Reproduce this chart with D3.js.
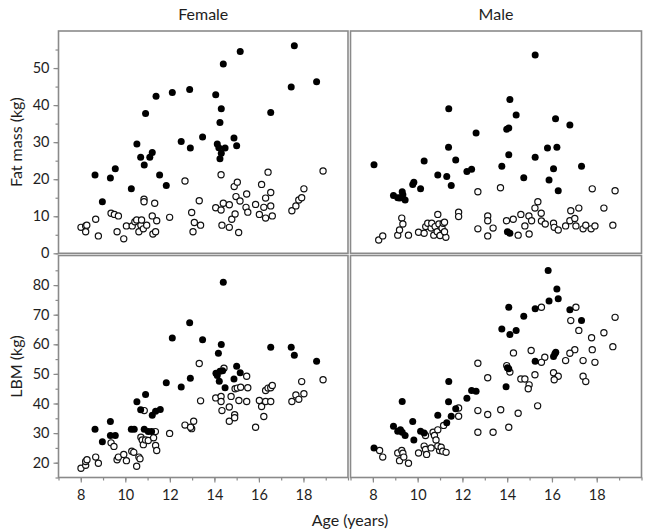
<!DOCTYPE html>
<html><head><meta charset="utf-8">
<script src="https://cdn.jsdelivr.net/npm/d3@7/dist/d3.min.js"></script>
<style>body{margin:0;background:#fff}svg{display:block}</style>
</head><body>
<svg id="c" width="651" height="532"></svg>
<script>
// ---- data: [age, value] ----
const panelTitles = ["Female", "Male"];
const xTickLabels = [8, 10, 12, 14, 16, 18];
const fatTickLabels = [0, 10, 20, 30, 40, 50];
const lbmTickLabels = [20, 30, 40, 50, 60, 70, 80];

const femaleFatFilled = [[8.64,21.1],[8.97,13.9],[9.33,20.3],[9.55,22.8],[10.27,17.4],[10.52,29.5],[10.69,25.9],[10.85,23.8],[10.91,37.7],[11.1,25.9],[11.21,27.2],[11.38,42.4],[11.54,21.1],[11.84,18.3],[12.11,43.4],[12.51,30.2],[12.89,44.2],[12.92,28.4],[13.47,31.4],
[14.06,42.8],[14.31,39.0],[14.40,51.1],[14.25,35.3],[14.13,29.5],[14.20,28.5],[14.31,27.0],[14.25,25.5],[14.48,28.4],[14.88,31.1],[15.0,29.0],[15.16,54.5],[16.53,38.0],[17.45,44.9],[17.59,56.0],[18.59,46.3]];
const femaleFatOpen = [[8.01,7.0],[8.22,7.4],[8.22,5.8],[8.27,7.6],[8.67,9.2],[8.79,4.7],[9.36,10.8],[9.51,10.5],[9.69,10.1],[9.63,5.8],[9.93,3.9],[10.05,7.4],[10.31,7.4],[10.43,8.5],[10.51,9.0],[10.61,5.8],[10.70,7.6],[10.73,9.0],[10.81,6.6],[10.84,14.6],[10.84,13.9],[10.96,7.6],[11.21,10.1],[11.24,5.2],[11.36,5.8],[11.41,8.8],[11.32,13.5],[11.99,9.7],[12.68,19.5],[12.98,11.0],[13.04,5.8],[13.10,8.3],[13.32,14.2],[13.38,7.6],
[14.30,21.2],[14.06,12.3],[14.30,11.7],[14.40,13.5],[14.67,13.1],[14.34,7.6],[14.67,7.0],[14.78,9.2],[14.93,10.6],[14.89,18.0],[15.03,19.2],[14.97,15.3],[15.15,14.1],[15.45,16.0],[15.42,12.4],[15.50,11.1],[15.09,5.6],[15.85,13.2],[16.02,10.5],[16.12,18.6],[16.22,12.4],[16.30,14.9],[16.53,16.4],[16.41,21.9],[16.53,12.8],[16.30,9.5],[16.60,10.1],[17.48,11.5],[17.66,12.8],[17.79,14.4],[17.92,15.0],[18.02,17.4],[18.88,22.2]];

const maleFatFilled = [[8.05,23.9],[8.92,15.6],[9.11,15.0],[9.20,14.9],[9.31,16.6],[9.34,15.8],[9.44,14.4],[9.78,18.6],[9.83,19.2],[10.13,17.4],[10.29,24.9],[10.90,21.1],[11.30,20.7],[11.39,39.0],[11.38,28.6],[11.50,18.3],[11.70,25.2],[12.20,22.1],[12.41,22.7],[12.61,32.5],
[15.25,53.5],[14.12,41.5],[14.40,37.3],[13.98,33.5],[14.07,33.8],[14.07,26.6],[13.76,23.5],[14.74,20.4],[15.25,25.9],[15.80,28.4],[16.22,28.6],[16.16,36.3],[16.07,22.8],[15.87,19.8],[16.28,16.9],[16.80,34.6],[17.32,23.5],[14.01,5.8],[14.12,5.4]];
const maleFatOpen = [[8.26,3.6],[8.44,4.7],[9.11,4.9],[9.19,6.3],[9.29,9.5],[9.34,7.9],[9.59,4.9],[10.04,5.7],[10.29,5.4],[10.36,7.2],[10.45,8.1],[10.60,6.8],[10.63,8.1],[10.72,4.9],[10.78,7.2],[10.87,5.8],[10.90,10.5],[10.95,7.9],[11.00,4.8],[11.09,6.8],[11.14,8.1],[11.20,8.4],[11.26,4.3],[11.20,5.8],[11.83,11.1],[11.83,9.9],[12.69,16.6],[12.69,6.6],[13.13,10.1],[13.13,8.8],[13.13,4.7],[13.37,6.8],[13.70,17.7],
[13.97,8.8],[14.27,9.2],[14.61,10.5],[14.97,10.1],[15.09,8.8],[14.79,7.4],[14.98,5.2],[14.49,4.9],[15.24,12.2],[15.37,13.9],[15.52,10.8],[15.53,8.7],[15.70,7.9],[16.07,8.1],[16.10,7.0],[16.28,6.3],[16.61,7.4],[16.84,11.5],[16.80,8.8],[17.02,9.4],[17.07,7.4],[17.20,12.2],[17.39,6.6],[17.51,7.6],[17.75,6.6],[17.92,7.4],[17.80,17.4],[18.32,12.2],[18.72,7.6],[18.82,16.9]];

const femaleLbmFilled = [[8.64,31.3],[8.97,27.1],[9.33,33.9],[9.33,29.2],[9.55,29.2],[10.27,31.3],[10.40,31.3],[10.52,40.6],[10.69,37.9],[10.91,43.0],[10.85,31.3],[11.03,30.5],[11.18,30.5],[11.21,36.0],[11.36,37.4],[11.57,38.0],[11.84,47.0],[12.11,62.1],[12.51,45.6],[12.89,67.3],[12.92,48.5],[13.47,61.5],
[14.40,81.0],[14.31,59.9],[14.18,57.0],[14.07,50.2],[14.13,49.5],[14.25,50.9],[14.37,51.1],[14.22,47.5],[14.48,45.3],[15.0,52.6],[15.16,50.4],[14.88,48.3],[16.53,59.0],[17.45,59.0],[17.59,56.3],[18.59,54.3]];
const femaleLbmOpen = [[8.01,18.1],[8.22,19.1],[8.22,20.4],[8.28,21.0],[8.67,21.9],[8.79,19.8],[9.36,26.7],[9.49,25.5],[9.63,21.0],[9.69,21.9],[9.93,22.8],[10.05,20.7],[10.29,23.9],[10.38,23.5],[10.51,18.8],[10.61,21.9],[10.66,21.3],[10.70,28.6],[10.76,27.7],[10.81,26.1],[10.85,37.6],[10.91,27.7],[11.03,27.5],[11.27,28.4],[11.35,30.5],[11.36,25.8],[11.41,24.1],[11.99,29.9],[12.68,32.7],[12.98,31.5],[13.07,34.0],[12.93,32.0],[13.32,53.5],[13.38,40.9],
[14.43,51.9],[14.06,41.9],[14.30,42.4],[14.30,40.7],[14.34,37.6],[14.67,38.8],[14.75,42.4],[14.67,34.0],[14.91,36.2],[14.91,35.2],[14.93,45.0],[15.03,45.2],[15.18,45.5],[15.10,41.0],[15.45,49.2],[15.50,45.3],[15.45,40.7],[15.85,32.0],[16.02,41.0],[16.12,39.0],[16.22,35.6],[16.30,40.7],[16.30,44.4],[16.41,45.2],[16.53,40.7],[16.53,45.3],[16.60,46.1],[17.48,40.7],[17.66,42.9],[17.79,41.4],[17.92,47.4],[18.02,43.3],[18.88,48.0]];

const maleLbmFilled = [[8.05,25.0],[8.92,32.3],[9.11,30.6],[9.23,31.1],[9.31,40.7],[9.31,30.3],[9.44,29.2],[9.78,33.9],[9.83,27.7],[10.13,30.6],[10.29,30.0],[10.90,36.0],[11.30,33.5],[11.39,47.4],[11.38,40.6],[11.50,35.7],[11.70,38.2],[12.20,41.8],[12.41,44.4],[12.61,44.1],
[15.83,84.9],[16.22,78.7],[16.28,75.4],[15.87,74.6],[15.25,72.0],[14.74,69.5],[14.07,72.5],[13.76,65.2],[14.12,63.3],[14.40,64.7],[16.80,71.7],[17.32,68.0],[15.25,54.3],[16.07,55.9],[16.13,56.8],[16.17,57.3],[14.07,51.7],[14.01,52.1],[13.95,45.7]];
const maleLbmOpen = [[8.30,24.1],[8.44,21.9],[9.11,23.3],[9.19,20.7],[9.29,24.1],[9.34,23.2],[9.38,21.9],[9.59,19.8],[10.04,23.3],[10.29,25.6],[10.35,24.5],[10.40,22.8],[10.35,29.2],[10.60,25.0],[10.69,30.3],[10.75,29.2],[10.82,27.7],[10.90,31.1],[10.98,24.1],[10.90,25.6],[11.05,25.2],[11.12,23.9],[11.16,32.6],[11.27,23.5],[11.83,38.5],[11.83,35.7],[12.69,53.6],[13.13,48.7],[12.69,37.6],[13.13,36.3],[12.69,30.3],[13.37,30.3],
[15.53,72.5],[17.07,72.5],[16.84,68.0],[17.20,64.7],[17.77,62.2],[18.32,63.9],[18.82,69.1],[18.72,59.2],[17.80,58.2],[17.92,53.9],[17.39,54.5],[17.02,58.2],[16.80,57.0],[16.61,54.5],[15.68,55.6],[15.53,53.9],[15.07,57.9],[14.28,57.1],[13.98,52.8],[14.12,50.6],[14.61,48.3],[14.79,48.3],[14.98,46.3],[14.94,45.0],[15.24,49.7],[16.07,50.4],[16.28,49.2],[16.10,48.0],[17.39,49.2],[17.51,47.4],[13.71,37.9],[14.49,36.7],[14.07,32.0],[15.36,39.2]];

// ---- layout ----
const svg = d3.select("#c");
const font = "Lato, 'Open Sans', sans-serif";
const cols = [{x0:58.5, x1:348}, {x0:350.5, x1:641.5}];
const rows = [
  {y0:31, y1:253.3, domain:[0,60], ticks:d3.range(0,60,5), labels:fatTickLabels, title:"Fat mass (kg)"},
  {y0:255.5, y1:477.5, domain:[15,90], ticks:d3.range(15,90,5), labels:lbmTickLabels, title:"LBM (kg)"}
];
const data = [[femaleFatFilled, maleFatFilled, femaleFatOpen, maleFatOpen],
              [femaleLbmFilled, maleLbmFilled, femaleLbmOpen, maleLbmOpen]];
const border = "#8a8a8a";
const textCol = "#1e1e1e";

rows.forEach((r, ri) => {
  const y = d3.scaleLinear().domain(r.domain).range([r.y1, r.y0]);
  cols.forEach((c, ci) => {
    const x = d3.scaleLinear().domain([7,20]).range([c.x0, c.x1]);
    const g = svg.append("g");
    g.append("rect").attr("x", c.x0).attr("y", r.y0).attr("width", c.x1-c.x0).attr("height", r.y1-r.y0)
      .attr("fill", "none").attr("stroke", border).attr("stroke-width", 1.6);
    const filled = data[ri][ci], open = data[ri][ci+2];
    g.selectAll("circle.o").data(open).join("circle").attr("class","o")
      .attr("cx", d => x(d[0])).attr("cy", d => y(d[1])).attr("r", 3.1)
      .attr("fill", "#fff").attr("stroke", "#111").attr("stroke-width", 1.2);
    g.selectAll("circle.f").data(filled).join("circle").attr("class","f")
      .attr("cx", d => x(d[0])).attr("cy", d => y(d[1])).attr("r", 3.5)
      .attr("fill", "#000");
    if (ri === 1) {
      const ax = g.append("g").attr("transform", `translate(0,${r.y1})`);
      ax.call(d3.axisBottom(x).tickValues(d3.range(7,21,1)).tickSize(3).tickFormat(""));
      ax.select(".domain").remove();
      const ax2 = g.append("g").attr("transform", `translate(0,${r.y1})`);
      ax2.call(d3.axisBottom(x).tickValues(xTickLabels).tickSize(5).tickPadding(7).tickFormat(d3.format("d")));
      ax2.select(".domain").remove();
      [ax, ax2].forEach(a => { a.selectAll("line").attr("stroke", border).attr("stroke-width", 1.2); });
      ax2.selectAll("text").attr("font-family", font).attr("font-size", 14.5).attr("fill", textCol);
    }
    if (ci === 0) {
      const ay = g.append("g").attr("transform", `translate(${c.x0},0)`);
      ay.call(d3.axisLeft(y).tickValues(r.ticks).tickSize(3).tickFormat(""));
      ay.select(".domain").remove();
      const ay2 = g.append("g").attr("transform", `translate(${c.x0},0)`);
      ay2.call(d3.axisLeft(y).tickValues(r.labels).tickSize(5).tickPadding(4).tickFormat(d3.format("d")));
      ay2.select(".domain").remove();
      [ay, ay2].forEach(a => { a.selectAll("line").attr("stroke", border).attr("stroke-width", 1.2); });
      ay2.selectAll("text").attr("font-family", font).attr("font-size", 14.5).attr("fill", textCol);
    }
  });
  svg.append("text").attr("transform", `translate(22,${(r.y0+r.y1)/2}) rotate(-90)`)
    .attr("text-anchor", "middle").attr("font-family", font).attr("font-size", 16).attr("fill", textCol).text(r.title);
});
cols.forEach((c, ci) => {
  svg.append("text").attr("x", (c.x0+c.x1)/2).attr("y", 20).attr("text-anchor", "middle")
    .attr("font-family", font).attr("font-size", 16).attr("fill", textCol).text(panelTitles[ci]);
});
svg.append("text").attr("x", 350).attr("y", 526).attr("text-anchor", "middle")
  .attr("font-family", font).attr("font-size", 16).attr("fill", textCol).text("Age (years)");
</script>
</body></html>
